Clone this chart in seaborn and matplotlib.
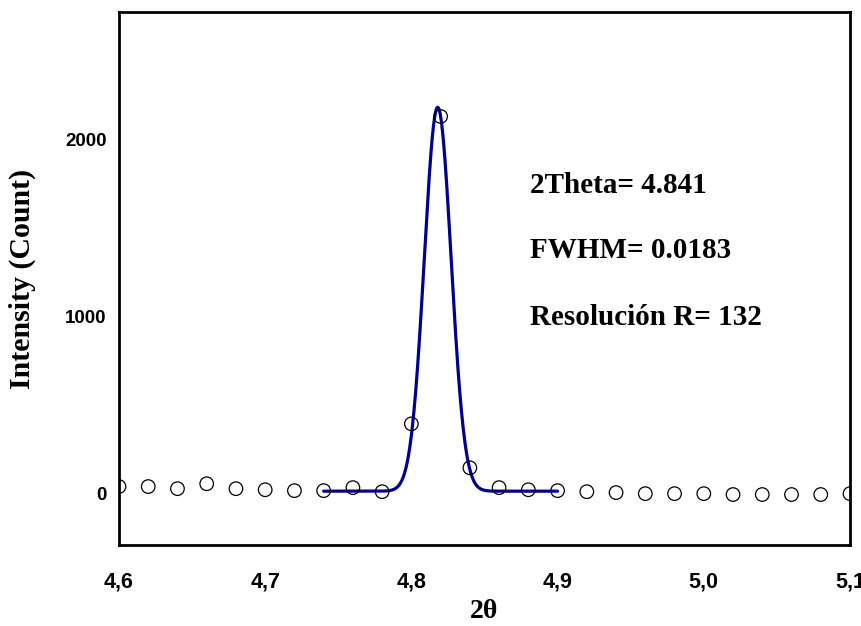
"""XRD peak: measured counts (open circles) with Gaussian fit line."""

import numpy as np
import matplotlib
matplotlib.use("Agg")
import matplotlib.pyplot as plt
import seaborn as sns
import pandas as pd

# measured points
two_theta = [4.60, 4.62, 4.64, 4.66, 4.68, 4.70, 4.72, 4.74, 4.76, 4.78,
             4.80, 4.82, 4.84, 4.86, 4.88, 4.90, 4.92, 4.94, 4.96, 4.98,
             5.00, 5.02, 5.04, 5.06, 5.08, 5.10]
counts = [40, 40, 28, 56, 28, 22, 17, 17, 34, 11,
          394, 2130, 146, 34, 22, 17, 11, 6, 0, 0,
          0, -5, -5, -5, -5, 0]

# fit parameters (gaussian)
fit_center = 4.818
fit_fwhm = 0.0216
fit_height = 2168
fit_base = 14
fit_range = (4.74, 4.90)

xtick_vals = [4.6, 4.7, 4.8, 4.9, 5.0, 5.1]
xtick_labels = ["4,6", "4,7", "4,8", "4,9", "5,0", "5,1"]
ytick_vals = [0, 1000, 2000]
notes = ["2Theta= 4.841", "FWHM= 0.0183", "Resolución R= 132"]

sns.set_theme(style="white")
plt.rcParams["font.family"] = ["Liberation Sans", "DejaVu Sans"]
plt.rcParams["text.color"] = "black"
plt.rcParams["axes.labelcolor"] = "black"
plt.rcParams["xtick.color"] = "black"
plt.rcParams["ytick.color"] = "black"
serif = ["Liberation Serif", "DejaVu Serif"]

pts = pd.DataFrame({"x": two_theta, "y": counts})
xf = np.linspace(fit_range[0], fit_range[1], 400)
sig = fit_fwhm / (2 * np.sqrt(2 * np.log(2)))
fit = pd.DataFrame({"x": xf,
                    "y": fit_base + fit_height * np.exp(-0.5 * ((xf - fit_center) / sig) ** 2)})

fig = plt.figure(figsize=(8.61, 6.26), dpi=100)
ax = fig.add_axes([0.1382, 0.1294, 0.849, 0.8514])

sns.lineplot(data=fit, x="x", y="y", color="#00008f", linewidth=2.3, ax=ax, zorder=2)
sns.scatterplot(data=pts, x="x", y="y", marker="o", s=95, facecolors="none",
                edgecolor="black", linewidth=0.9, ax=ax, zorder=3)

ax.set_xlim(4.6, 5.1)
ax.set_ylim(-290, 2720)
ax.set_xticks(xtick_vals, xtick_labels)
ax.set_yticks(ytick_vals)
ax.tick_params(axis="x", length=0, pad=19, labelsize=15.5)
ax.tick_params(axis="y", length=0, pad=9, labelsize=13.5)
for lab in ax.get_xticklabels() + ax.get_yticklabels():
    lab.set_fontweight("bold")

for sp in ax.spines.values():
    sp.set_color("black")
    sp.set_linewidth(2)

ax.set_xlabel("2θ", family=serif, fontsize=20, fontweight="bold")
ax.set_ylabel("Intensity (Count)", family=serif, fontsize=21.5, fontweight="bold")
ax.xaxis.set_label_coords(0.5, -0.102)
ax.yaxis.set_label_coords(-0.1135, 0.5)

for txt, yy in zip(notes, [0.674, 0.553, 0.426]):
    ax.text(0.562, yy, txt, transform=ax.transAxes, va="center", ha="left",
            family=serif, fontsize=21, fontweight="bold")

fig.savefig("out.png", dpi=100)
